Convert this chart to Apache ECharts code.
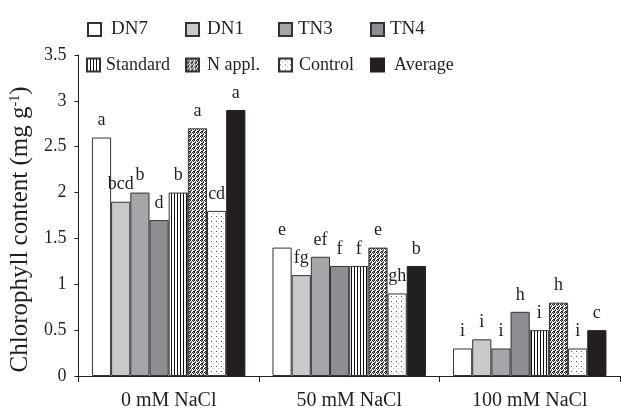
<!DOCTYPE html>
<html><head><meta charset="utf-8">
<script src="https://cdn.jsdelivr.net/npm/echarts@6/dist/echarts.min.js"></script>
<style>html,body{margin:0;padding:0;background:#fff}#c{width:621px;height:412px}</style>
</head><body><div id="c"></div>
<script>
const categories = ['0 mM NaCl', '50 mM NaCl', '100 mM NaCl'];
const seriesNames = ['DN7', 'DN1', 'TN3', 'TN4', 'Standard', 'N appl.', 'Control', 'Average'];
const DN7 = [2.6, 1.4, 0.3];
const DN1 = [1.9, 1.1, 0.4];
const TN3 = [2.0, 1.3, 0.3];
const TN4 = [1.7, 1.2, 0.7];
const Standard = [2.0, 1.2, 0.5];
const NAppl = [2.7, 1.4, 0.8];
const Control = [1.8, 0.9, 0.3];
const Average = [2.9, 1.2, 0.5];
const letDN7 = ['a', 'e', 'i'];
const letDN1 = ['bcd', 'fg', 'i'];
const letTN3 = ['b', 'ef', 'i'];
const letTN4 = ['d', 'f', 'h'];
const letStandard = ['b', 'f', 'i'];
const letNAppl = ['a', 'e', 'h'];
const letControl = ['cd', 'gh', 'i'];
const letAverage = ['a', 'b', 'c'];
const yTicks = [0, 0.5, 1, 1.5, 2, 2.5, 3, 3.5];

function pattern(w, h, draw) {
  const c = document.createElement('canvas');
  c.width = w; c.height = h;
  const g = c.getContext('2d');
  g.fillStyle = '#fff'; g.fillRect(0, 0, w, h);
  draw(g);
  return { image: c, repeat: 'repeat' };
}
const stripes = pattern(3, 3, g => { g.fillStyle = '#111'; g.fillRect(0, 0, 1, 3); });
const stipple = pattern(4, 4, g => {
  g.fillStyle = '#222';
  [[0,0],[2,0],[1,1],[3,2],[1,3],[2,3]].forEach(p => g.fillRect(p[0], p[1], 1, 1));
  g.fillStyle = '#888';
  [[1,0],[2,2],[3,1]].forEach(p => g.fillRect(p[0], p[1], 1, 1));
});
const dots = pattern(5, 5, g => {
  g.fillStyle = '#555'; g.fillRect(1, 1, 1, 1);
  g.fillStyle = '#bbb'; g.fillRect(3, 3, 1, 1);
});

const values = [DN7, DN1, TN3, TN4, Standard, NAppl, Control, Average];
const letters = [letDN7, letDN1, letTN3, letTN4, letStandard, letNAppl, letControl, letAverage];
const fills = ['#ffffff', '#c8c9cb', '#a5a6a9', '#8d8e91', stripes, stipple, dots, '#231f20'];
const borders = ['#333', '#333', '#333', '#333', '#333', '#333', '#333', '#231f20'];
const legendPos = [[87, 20], [185, 20], [278, 20], [370, 20], [86, 56], [185, 56], [278, 56], [370, 56]];
const legendGap = [10, 8, 6, 6, 6, 8, 7, 10];
const legendFont = [19, 19, 19, 19, 18, 18, 18, 18];

const font = '"Liberation Serif", "DejaVu Serif", serif';

const series = seriesNames.map((name, i) => ({
  name: name,
  type: 'bar',
  barGap: '0%',
  barCategoryGap: '15%',
  data: values[i],
  itemStyle: { color: fills[i], borderColor: borders[i], borderWidth: 1 },
  label: {
    show: true, position: 'top', distance: 8,
    fontFamily: font, fontSize: 18, color: '#231f20',
    formatter: p => letters[i][p.dataIndex]
  }
}));

const legends = seriesNames.map((name, i) => ({
  data: [name],
  left: legendPos[i][0], top: legendPos[i][1],
  itemWidth: 13, itemHeight: 13, itemGap: 0,
  icon: 'rect',
  textStyle: { fontFamily: font, fontSize: legendFont[i], color: '#231f20', padding: [0, 0, 0, legendGap[i] - 5] },
  padding: 0,
  selectedMode: false
}));

const chart = echarts.init(document.getElementById('c'), null, { renderer: 'canvas' });
chart.setOption({
  animation: false,
  backgroundColor: '#fff',
  legend: legends,
  grid: { left: 76, right: 1, top: 55, bottom: 36 },
  xAxis: {
    type: 'category', data: categories,
    axisLine: { lineStyle: { color: '#231f20', width: 1 } },
    axisTick: { show: true, length: 6, lineStyle: { color: '#231f20' } },
    axisLabel: { fontFamily: font, fontSize: 20, color: '#231f20', margin: 15 }
  },
  yAxis: {
    type: 'value', min: 0, max: 3.5, interval: 0.5,
    name: '{n|Chlorophyll content (mg g}{s|-1}{n|)}',
    nameLocation: 'middle', nameGap: 45, nameRotate: 90,
    nameTextStyle: {
      padding: [0, 28, 0, 0],
      rich: {
        n: { fontFamily: font, fontSize: 25, color: '#231f20' },
        s: { fontFamily: font, fontSize: 14, color: '#231f20', verticalAlign: 'top', padding: [0, 0, 11, 0] }
      }
    },
    axisLine: { show: true, lineStyle: { color: '#231f20', width: 1 } },
    axisTick: { show: true, length: 4, lineStyle: { color: '#231f20' } },
    splitLine: { show: false },
    axisLabel: { fontFamily: font, fontSize: 18, color: '#231f20', margin: 12,
      formatter: v => yTicks.indexOf(v) >= 0 ? String(v) : '' }
  },
  series: series
});
</script></body></html>
